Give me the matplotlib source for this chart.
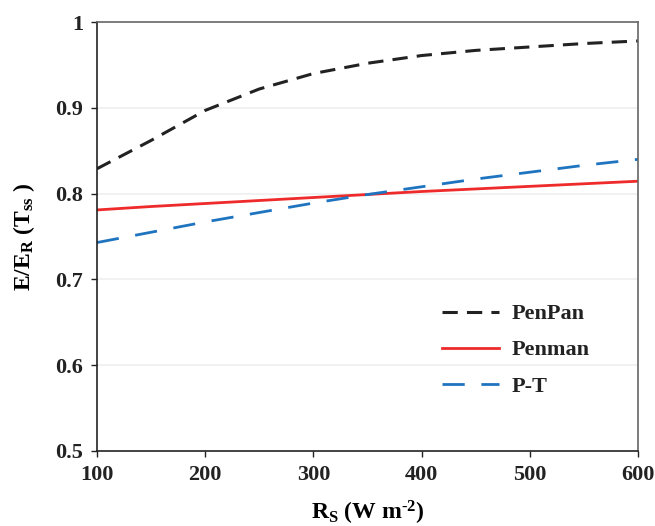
import matplotlib
matplotlib.use("Agg")
import matplotlib.pyplot as plt

rs = [100, 150, 200, 250, 300, 350, 400, 450, 500, 550, 600]
penpan = [0.829, 0.862, 0.897, 0.922, 0.940, 0.952, 0.961, 0.967, 0.971, 0.975, 0.978]
penman = [0.781, 0.785, 0.7885, 0.792, 0.7955, 0.799, 0.8025, 0.8055, 0.8085, 0.8115, 0.8145]
pt = [0.743, 0.755, 0.767, 0.778, 0.789, 0.799, 0.808, 0.817, 0.825, 0.833, 0.840]

xticks = [100, 200, 300, 400, 500, 600]
yticks = [0.5, 0.6, 0.7, 0.8, 0.9, 1.0]
yticklabels = ["0.5", "0.6", "0.7", "0.8", "0.9", "1"]

plt.rcParams['font.family'] = ['Liberation Serif', 'DejaVu Serif']
plt.rcParams['font.weight'] = 'bold'
plt.rcParams['mathtext.fontset'] = 'custom'
plt.rcParams['mathtext.rm'] = 'Liberation Serif:bold'
plt.rcParams['mathtext.bf'] = 'Liberation Serif:bold'
plt.rcParams['mathtext.it'] = 'Liberation Serif:bold'

fig = plt.figure(figsize=(6.55, 5.26), dpi=100)
ax = fig.add_axes([0.148, 0.1426, 0.826, 0.8154])

for y in yticks[1:-1]:
    ax.axhline(y, color='#efefef', lw=1.2, zorder=0)

ax.plot(rs, penpan, color='#222222', lw=2.2, ls=(0, (5, 3)), label='PenPan')
ax.plot(rs, penman, color='#ee2a2a', lw=2.0, ls='-', label='Penman')
ax.plot(rs, pt, color='#1f74c0', lw=2.0, ls=(0, (8, 6)), label='P-T')

ax.set_xlim(100, 600)
ax.set_ylim(0.5, 1.0)
ax.set_xticks(xticks)
ax.set_yticks(yticks)
ax.set_yticklabels(yticklabels)
ax.tick_params(direction='out', length=4, width=1, labelsize=16, colors='#222222', pad=6)
for lab in ax.get_xticklabels() + ax.get_yticklabels():
    lab.set_fontweight('bold')

ax.spines['left'].set_color('#222222')
ax.spines['bottom'].set_color('#222222')
ax.spines['top'].set_color('#666666')
ax.spines['right'].set_color('#666666')
for s in ax.spines.values():
    s.set_linewidth(1.2)

ax.set_xlabel(r'R$_\mathregular{S}$ (W m$^\mathregular{\text{-}2}$)', fontsize=17, fontweight='bold', labelpad=10)
ax.set_ylabel(r'E/E$_\mathregular{R}$ (T$_\mathregular{ss}$ )', fontsize=17, fontweight='bold', labelpad=13)

leg = ax.legend(loc='center left', bbox_to_anchor=(0.6, 0.235), frameon=False,
                fontsize=16, handlelength=2.6, labelspacing=0.7, handletextpad=0.55)
for t in leg.get_texts():
    t.set_fontweight('bold')
    t.set_color('#222222')

fig.savefig('out.png', dpi=100)
